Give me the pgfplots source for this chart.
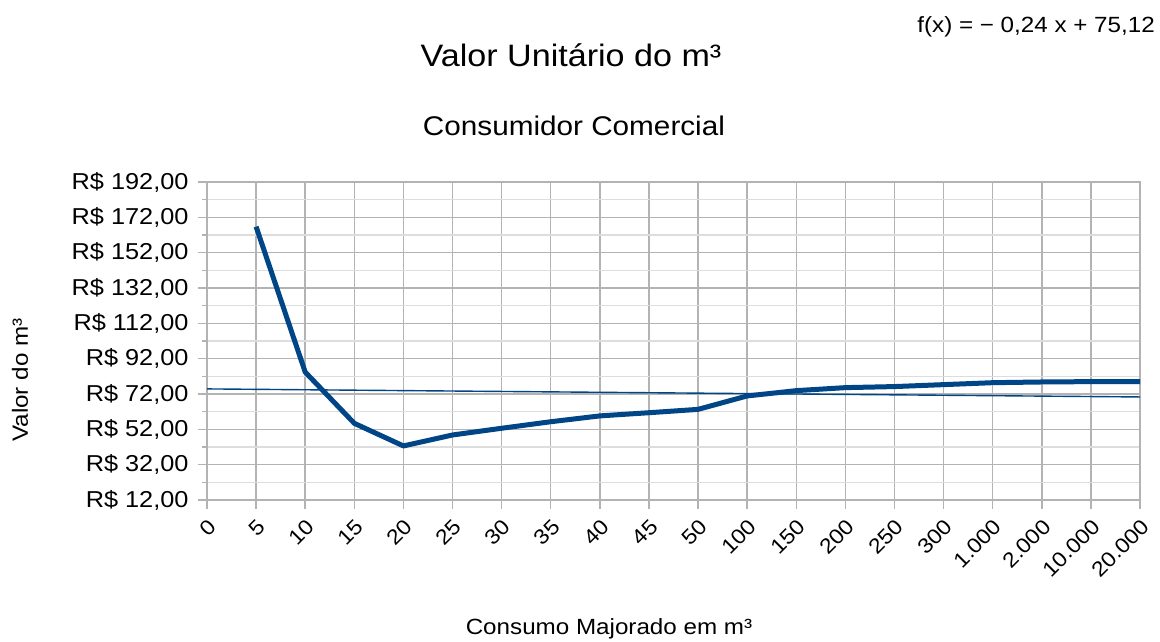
\documentclass[border=0pt]{standalone}
\usepackage{fontspec}
\setmainfont[FakeStretch=1.1]{Liberation Sans}
\usepackage{pgfplots}
\pgfplotsset{compat=1.18}
\definecolor{lobue}{HTML}{004586}
\definecolor{majgrid}{HTML}{B3B3B3}
\definecolor{mingrid}{HTML}{DDDDDD}
\begin{document}
\begin{tikzpicture}[x=1pt,y=1pt]
\path[use as bounding box] (0,0) rectangle (1160,642);
\begin{axis}[
  at={(207pt,142pt)}, anchor=south west,
  scale only axis, width=933pt, height=318pt,
  xmin=0, xmax=19, ymin=12, ymax=192,
  xtick={0,...,19},
  xticklabels={0,5,10,15,20,25,30,35,40,45,50,100,150,200,250,300,1.000,2.000,10.000,20.000},
  ytick={12,32,...,192},
  yticklabels={{R\$ 12,00},{R\$ 32,00},{R\$ 52,00},{R\$ 72,00},{R\$ 92,00},{R\$ 112,00},{R\$ 132,00},{R\$ 152,00},{R\$ 172,00},{R\$ 192,00}},
  minor ytick={22,42,...,182},
  grid=both,
  major grid style={majgrid, line width=1.5pt},
  minor grid style={mingrid, line width=1.5pt},
  axis line style={majgrid, line width=1.5pt},
  tick style={majgrid, line width=1.5pt},
  tick align=outside,
  major tick length=9pt, minor tick length=5pt,
  xtick pos=bottom, ytick pos=left,
  yticklabel style={font=\fontsize{23}{27}\selectfont, text=black, xshift=-6pt},
  xticklabel style={font=\fontsize{21}{25}\selectfont, text=black, rotate=45, anchor=north east, inner sep=1pt, xshift=-5pt, yshift=-5pt},
  axis on top=false,
  clip=false,
]
\addplot[lobue, line width=1.4pt] coordinates {(0,74.88) (19,70.32)};
\addplot[lobue, line width=5pt, line join=round] coordinates {
(1,166.7) (2,84.4) (3,55.4) (4,42.6) (5,48.8) (6,52.6) (7,56.3) (8,59.6) (9,61.4) (10,63.3)
(11,70.9) (12,73.9) (13,75.6) (14,76.2) (15,77.3) (16,78.4) (17,78.8) (18,79.0) (19,79.0)};
\end{axis}
\node[anchor=base, font=\fontsize{31}{37}\selectfont] at (571,575) {Valor Unitário do m³};
\node[anchor=base, font=\fontsize{27}{32}\selectfont] at (574,506) {Consumidor Comercial};
\node[anchor=base east, font=\fontsize{22}{26}\selectfont, inner sep=0pt] at (1155,609) {f(x) = − 0,24 x + 75,12};
\node[anchor=base, font=\fontsize{22}{26}\selectfont, inner sep=0pt] at (609,7) {Consumo Majorado em m³};
\node[rotate=90, font=\fontsize{22}{26}\selectfont, inner sep=0pt] at (20,262) {Valor do m³};
\end{tikzpicture}
\end{document}
